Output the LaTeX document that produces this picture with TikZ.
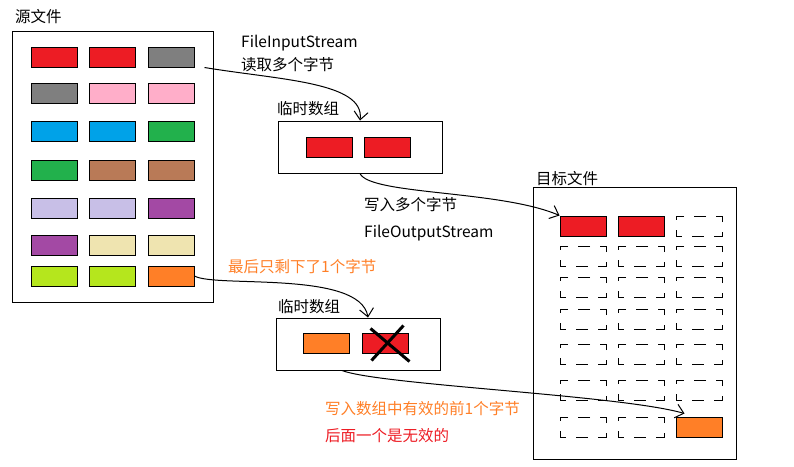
\documentclass[tikz,border=0pt]{standalone}
\usepackage{fontspec}
\newfontfamily\cjk{Noto Sans CJK SC}
\usetikzlibrary{arrows.meta,calc}

\definecolor{pRed}{HTML}{ED1C24}
\definecolor{pGray}{HTML}{7F7F7F}
\definecolor{pPink}{HTML}{FFAEC9}
\definecolor{pBlue}{HTML}{00A2E8}
\definecolor{pGreen}{HTML}{22B14C}
\definecolor{pBrown}{HTML}{B97A57}
\definecolor{pLavender}{HTML}{C8BFE7}
\definecolor{pPurple}{HTML}{A349A4}
\definecolor{pBeige}{HTML}{EFE4B0}
\definecolor{pLime}{HTML}{B5E61D}
\definecolor{pOrange}{HTML}{FF7F27}

\begin{document}
\begin{tikzpicture}[x=1pt, y=-1pt,
	font=\cjk\fontsize{15.5}{18}\selectfont,
	box/.style={draw, line width=1pt, inner sep=0pt},
	cell/.style={draw, fill=#1, line width=1pt, minimum width=46pt, minimum height=20pt, inner sep=0pt},
	blank/.style={draw, line width=1pt, minimum width=46pt, minimum height=20pt, inner sep=0pt, dash pattern=on 12pt off 10pt, dash phase=6pt},
	txt/.style={anchor=base west, inner sep=0pt},
	flow/.style={line width=1pt, -{Straight Barb[length=8pt,width=14pt]}},
	cross/.style={line width=3pt}]
	\useasboundingbox (0,0) rectangle (794,466);

	% Nodes
	% Source file
	\node[box, minimum width=201pt, minimum height=271pt] (src) at (112.5,166.5) {};
	\node[txt] (src-title) at (15,22) {源文件};
	% Bytes of the source file
	\foreach \r/\y/\ca/\cb/\cc in {1/57/pRed/pRed/pGray, 2/93/pGray/pPink/pPink,
		3/131/pBlue/pBlue/pGreen, 4/170/pGreen/pBrown/pBrown,
		5/208/pLavender/pLavender/pPurple, 6/245/pPurple/pBeige/pBeige,
		7/276/pLime/pLime/pOrange} {
		\node[cell=\ca] (src-\r-1) at (54,\y) {};
		\node[cell=\cb] (src-\r-2) at (112,\y) {};
		\node[cell=\cc] (src-\r-3) at (171,\y) {};
	}

	% First temporary array
	\node[box, minimum width=164pt, minimum height=52pt] (buf-a) at (360,147) {};
	\node[txt] (buf-a-title) at (277,114) {临时数组};
	\node[cell=pRed] (buf-a-1) at (329,147) {};
	\node[cell=pRed] (buf-a-2) at (387,147) {};

	% Second temporary array
	\node[box, minimum width=164pt, minimum height=52pt] (buf-b) at (358,344) {};
	\node[txt] (buf-b-title) at (278,312) {临时数组};
	\node[cell=pOrange] (buf-b-1) at (326.5,343) {};
	\node[cell=pRed] (buf-b-2) at (385,343) {};
	\draw[cross] ($(buf-b-2.north west)+(9,-4)$) -- ($(buf-b-2.south east)+(1,8)$);
	\draw[cross] ($(buf-b-2.south west)+(10,7)$) -- ($(buf-b-2.north east)+(-5,-7)$);

	% Target file
	\node[box, minimum width=203pt, minimum height=272pt] (tgt) at (634.5,323) {};
	\node[txt] (tgt-title) at (536,184) {目标文件};
	% Bytes of the target file
	\node[cell=pRed] (tgt-1-1) at (583,226) {};
	\node[cell=pRed] (tgt-1-2) at (641,226) {};
	\node[blank] (tgt-1-3) at (699,226) {};
	\foreach \r/\y in {2/256, 3/287, 4/319, 5/354, 6/390} {
		\node[blank] (tgt-\r-1) at (583,\y) {};
		\node[blank] (tgt-\r-2) at (641,\y) {};
		\node[blank] (tgt-\r-3) at (699,\y) {};
	}
	\node[blank] (tgt-7-1) at (583,427) {};
	\node[blank] (tgt-7-2) at (641,427) {};
	\node[cell=pOrange] (tgt-7-3) at (699,427) {};

	% Notes
	\node[txt] (read-api) at (241,47) {FileInputStream};
	\node[txt] (read-note) at (241,70) {读取多个字节};
	\node[txt] (write-note) at (364,210) {写入多个字节};
	\node[txt] (write-api) at (364,237) {FileOutputStream};
	\node[txt, text=pOrange] (rest-note) at (228,272) {最后只剩下了1个字节};
	\node[txt, text=pOrange] (valid-note) at (325,414) {写入数组中有效的前1个字节};
	\node[txt, text=pRed] (invalid-note) at (325,441) {后面一个是无效的};

	% Edges
	% Read into the first array
	\draw[flow] ([xshift=10pt]src-1-3.south east) .. controls (280,80) and (365,82) .. (buf-a.north);
	% Write the first array
	\draw[flow] (buf-a.south) .. controls (370,195) and (500,190) .. (tgt-1-1.north west);
	% Read the last byte
	\draw[flow] (src-7-3.east) .. controls (215,288) and (360,270) .. ([xshift=10pt]buf-b.north);
	% Write the valid part only
	\draw[flow] ([xshift=-16pt]buf-b.south) .. controls (380,385) and (620,395) .. ([xshift=9pt,yshift=3pt]tgt-7-3.north west);
\end{tikzpicture}
\end{document}
